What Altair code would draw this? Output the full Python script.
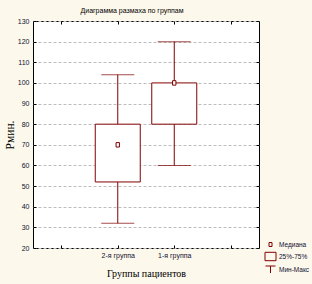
import altair as alt
import pandas as pd

groups = ["2-я группа", "1-я группа"]
mins = [32, 60]
q1s = [52, 80]
medians = [70, 100]
q3s = [80, 100]
maxs = [104, 120]

domain_x = ["_a", "2-я группа", "1-я группа", "_b"]
y_ticks = list(range(20, 131, 10))
legend_items = ["Медиана", "25%-75%", "Мин-Макс"]
legend_shapes = [
    "M-0.3,-0.4H0.3V0.4H-0.3Z",
    "M-1.1,-0.84H1.1V0.84H-1.1Z",
    "M-1,-0.7H1M0,-0.7V0.7",
]

df = pd.DataFrame({"group": groups, "min": mins, "q1": q1s, "median": medians,
                   "q3": q3s, "max": maxs})
leg = pd.DataFrame({"item": legend_items})

C = "#800000"
SANS = "Liberation Sans"
SERIF = "Liberation Serif"
lab_expr = "indexof(datum.label, '_') == 0 ? '' : datum.label"

xscale = alt.Scale(domain=domain_x, type="point", padding=0.5)
yscale = alt.Scale(domain=[20, 130], nice=False, zero=False)

x_main = alt.X("group:N", scale=xscale, title="Группы пациентов",
               axis=alt.Axis(orient="bottom", offset=-3, tickSize=3, domain=False,
                             labelExpr=lab_expr, labelAngle=0, labelPadding=3,
                             labelFontSize=7, labelFont=SANS, labelColor="#101030",
                             titleFont=SERIF, titleFontSize=10, titleFontWeight="normal",
                             titlePadding=10, tickColor="black", grid=False))
y_main = alt.Y("min:Q", scale=yscale, title="Рмин.",
               axis=alt.Axis(orient="left", offset=-3, tickSize=3, domain=False,
                             values=y_ticks, labelPadding=4, labelFontSize=7,
                             labelFont=SANS, labelColor="#101030",
                             titleFont=SERIF, titleFontSize=11.5, titleFontWeight="normal",
                             titlePadding=2, tickColor="black",
                             grid=True, gridDash=[3, 2], gridColor="#bdbdbd",
                             gridWidth=1))

whisk = alt.Chart(df).mark_rule(color=C, strokeWidth=1).encode(
    x=x_main, y=y_main, y2="max:Q")

box = alt.Chart(df).mark_bar(fill="white", stroke=C, strokeWidth=1, size=45).encode(
    x=alt.X("group:N", scale=xscale, axis=None),
    y=alt.Y("q1:Q", scale=yscale, axis=None), y2="q3:Q")

cap_lo = alt.Chart(df).mark_tick(color=C, size=33, thickness=1).encode(
    x=alt.X("group:N", scale=xscale, axis=None),
    y=alt.Y("min:Q", scale=yscale, axis=None))
cap_hi = alt.Chart(df).mark_tick(color=C, size=33, thickness=1).encode(
    x=alt.X("group:N", scale=xscale, axis=None),
    y=alt.Y("max:Q", scale=yscale, axis=None))

med = alt.Chart(df).mark_point(shape="M-0.75,-1H0.75V1H-0.75Z", size=20, filled=False,
                               stroke=C, strokeWidth=1, fill="white", opacity=1).encode(
    x=alt.X("group:N", scale=xscale, axis=None),
    y=alt.Y("median:Q", scale=yscale, axis=None))

frame = alt.Chart(df).mark_point(opacity=0).encode(
    x=alt.X("group:N", scale=xscale,
            axis=alt.Axis(orient="top", offset=-3, tickSize=3, domain=False,
                          labels=False, title=None, grid=False, tickColor="black")),
    y=alt.Y("max:Q", scale=yscale,
            axis=alt.Axis(orient="right", offset=-3, tickSize=3, domain=False,
                          values=y_ticks, labels=False, title=None, grid=False,
                          tickColor="black")))

legend_layer = alt.Chart(leg).mark_point(opacity=0, stroke=C, filled=False).encode(
    x=alt.value(20), y=alt.value(20),
    shape=alt.Shape("item:N",
                    scale=alt.Scale(domain=legend_items, range=legend_shapes),
                    legend=alt.Legend(orient="none", legendX=232, legendY=218, title=None,
                                      padding=0, symbolSize=100, symbolOpacity=1,
                                      symbolStrokeColor=C, symbolFillColor="transparent",
                                      symbolStrokeWidth=1, rowPadding=1,
                                      labelFont=SANS, labelFontSize=6.5,
                                      labelColor="#101030", labelOffset=3)))

chart = alt.layer(whisk, box, cap_lo, cap_hi, med, frame, legend_layer).resolve_axis(
    x="independent", y="independent").resolve_scale(x="shared", y="shared").properties(
    width=226, height=227,
    autosize=alt.AutoSizeParams(type="none"),
    padding={"left": 33, "top": 21, "right": 53, "bottom": 36},
    background="#fdf8ec",
    title=alt.TitleParams("Диаграмма размаха по группам", font=SANS, fontSize=7,
                          fontWeight="normal", color="black", anchor="middle",
                          offset=3, dx=-14),
).configure_view(fill="white", stroke="black", strokeWidth=1)

chart.save("out.html", embed_options={"renderer": "svg", "actions": False})
